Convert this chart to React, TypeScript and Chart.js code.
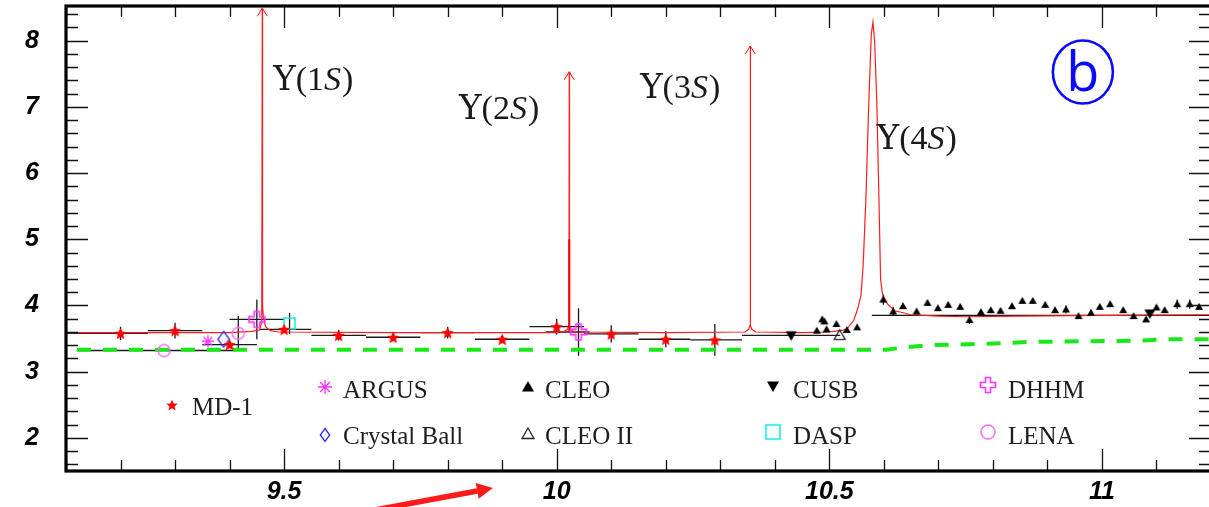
import React, { useEffect, useRef } from 'react';
import { Chart, registerables } from 'chart.js';

Chart.register(...registerables);

// ---------- axes ----------
const xTickValues = [9.5, 10, 10.5, 11];
const xTickLabels = ['9.5', '10', '10.5', '11'];
const yTickValues = [2, 3, 4, 5, 6, 7, 8];
const yTickLabels = ['2', '3', '4', '5', '6', '7', '8'];

// ---------- theory curve (red) ----------
const theoryX = [9.10, 9.40, 9.44, 9.455, 9.459, 9.460, 9.4605, 9.462, 9.466, 9.475, 9.49, 9.70, 10.00, 10.012, 10.020, 10.0225, 10.023, 10.0235, 10.027, 10.035, 10.20, 10.345, 10.352, 10.3545, 10.355, 10.3555, 10.358, 10.365, 10.45, 10.50, 10.52, 10.532, 10.545, 10.552, 10.558, 10.562, 10.567, 10.5725, 10.577, 10.580, 10.583, 10.587, 10.591, 10.594, 10.597, 10.602, 10.607, 10.62, 10.65, 10.70, 10.75, 10.85, 11.00, 11.20];
const theoryY = [3.59, 3.59, 3.61, 3.63, 3.75, 8.49, 4.00, 3.82, 3.68, 3.62, 3.60, 3.59, 3.59, 3.60, 3.64, 3.72, 7.53, 3.68, 3.62, 3.60, 3.59, 3.60, 3.64, 3.70, 7.92, 3.70, 3.64, 3.60, 3.59, 3.60, 3.62, 3.64, 3.78, 3.95, 4.15, 4.60, 5.60, 7.10, 8.10, 8.28, 8.00, 7.10, 5.60, 4.40, 4.20, 4.08, 4.02, 3.92, 3.86, 3.84, 3.83, 3.84, 3.85, 3.86];
const coreX = [10.023, 10.023];
const coreY = [3.60, 5.00];
const arrowMass = [9.460, 10.023, 10.355];
const arrowTop = [8.49, 7.53, 7.92];
const resonanceNames = ['1', '2', '3', '4'];

// ---------- green dashed ----------
const greenX = [9.12, 10.605, 10.63, 10.68, 10.78, 10.87, 10.975, 11.07, 11.12, 11.2];
const greenY = [3.33, 3.33, 3.36, 3.40, 3.42, 3.45, 3.46, 3.47, 3.49, 3.49];

// ---------- black average line ----------
const fitX = [10.578, 11.2];
const fitY = [3.85, 3.85];

// ---------- experiments ----------
const mdX = [9.20, 9.30, 9.40, 9.50, 9.60, 9.70, 9.80, 9.90, 10.00, 10.10, 10.20, 10.29];
const mdY = [3.58, 3.62, 3.41, 3.64, 3.55, 3.52, 3.59, 3.49, 3.68, 3.57, 3.49, 3.48];
const mdXLo = [9.10, 9.25, 9.35, 9.455, 9.55, 9.65, 9.75, 9.85, 9.95, 10.05, 10.15, 10.245];
const mdXHi = [9.25, 9.35, 9.45, 9.55, 9.65, 9.75, 9.85, 9.95, 10.05, 10.15, 10.245, 10.34];
const mdYErr = [0.10, 0.12, 0.05, 0.05, 0.08, 0.06, 0.09, 0.05, 0.12, 0.13, 0.12, 0.24];

const argusX = [9.36];
const argusY = [3.46];

const cbX = [9.389];
const cbY = [3.49];

const lenaX = [9.28, 9.416];
const lenaY = [3.32, 3.58];
const lenaXLo = [9.12, 9.416];
const lenaXHi = [9.41, 9.416];
const lenaYErr = [0, 0.26];

const dhhmX = [9.45, 10.04];
const dhhmY = [3.79, 3.60];
const dhhmXLo = [9.40, 9.98];
const dhhmXHi = [9.50, 10.06];
const dhhmYErr = [0.30, 0.36];

const daspX = [9.51];
const daspY = [3.73];
const daspYErr = [0.16];

const cusbX = [10.43, 11.088];
const cusbY = [3.55, 3.88];
const cusbXLo = [10.34, 11.088];
const cusbXHi = [10.52, 11.088];

const cleo2X = [10.519];
const cleo2Y = [3.55];

const cleoX = [10.477, 10.487, 10.491, 10.495, 10.513, 10.532, 10.551, 10.599, 10.617, 10.635, 10.660, 10.680, 10.699, 10.718, 10.740, 10.757, 10.778, 10.796, 10.814, 10.835, 10.854, 10.873, 10.896, 10.914, 10.934, 10.957, 10.980, 10.996, 11.015, 11.039, 11.058, 11.081, 11.100, 11.115, 11.138, 11.161, 11.178];
const cleoY = [3.62, 3.79, 3.76, 3.64, 3.72, 3.63, 3.67, 4.09, 3.91, 3.99, 3.91, 4.04, 3.96, 4.01, 3.98, 3.78, 3.90, 3.93, 3.92, 3.99, 4.07, 4.07, 4.01, 3.93, 3.94, 3.84, 3.89, 3.98, 4.02, 3.93, 3.84, 3.79, 3.97, 3.93, 4.02, 4.02, 3.98];
const cleoYErr = [0.03, 0.03, 0.03, 0.03, 0.03, 0.03, 0.03, 0.08, 0.07, 0.03, 0.03, 0.03, 0.03, 0.03, 0.03, 0.06, 0.03, 0.03, 0.03, 0.03, 0.03, 0.03, 0.03, 0.03, 0.06, 0.03, 0.03, 0.03, 0.03, 0.03, 0.03, 0.03, 0.03, 0.03, 0.07, 0.07, 0.03];

const legendNames = ['MD-1', 'ARGUS', 'Crystal Ball', 'CLEO', 'CLEO II', 'CUSB', 'DASP', 'DHHM', 'LENA'];

// ---------- colours ----------
const RED = '#ff0000';
const MAGENTA = '#ff33ff';
const BLUE = '#2a2aff';
const CYAN = '#11eeee';
const PINK = '#ff66ff';

const pts = (xs: number[], ys: number[]) => xs.map((x, i) => ({ x, y: ys[i] }));

type Kind = 'star5' | 'asterisk' | 'diamond' | 'tri' | 'triOpen' | 'triDown' | 'square' | 'plus' | 'circle';

function drawMarker(ctx: CanvasRenderingContext2D, kind: Kind, x: number, y: number, s: number, color: string) {
  ctx.save();
  ctx.translate(x, y);
  ctx.strokeStyle = color;
  ctx.fillStyle = color;
  ctx.lineWidth = 1.3;
  ctx.beginPath();
  const h = s / 2;
  switch (kind) {
    case 'star5': {
      const r = h * 0.45;
      for (let k = 0; k < 10; k++) {
        const a = -Math.PI / 2 + (k * Math.PI) / 5;
        const rr = k % 2 ? r : h;
        ctx.lineTo(rr * Math.cos(a), rr * Math.sin(a) + h * 0.1);
      }
      ctx.closePath();
      ctx.fill();
      break;
    }
    case 'asterisk': {
      for (let k = 0; k < 4; k++) {
        const a = (k * Math.PI) / 4;
        ctx.moveTo(-h * Math.cos(a), -h * Math.sin(a));
        ctx.lineTo(h * Math.cos(a), h * Math.sin(a));
      }
      ctx.stroke();
      break;
    }
    case 'diamond': {
      const w = s * 0.36;
      ctx.moveTo(0, -h);
      ctx.lineTo(w, 0);
      ctx.lineTo(0, h);
      ctx.lineTo(-w, 0);
      ctx.closePath();
      ctx.stroke();
      break;
    }
    case 'tri':
    case 'triOpen': {
      ctx.moveTo(0, -h);
      ctx.lineTo(h, h * 0.75);
      ctx.lineTo(-h, h * 0.75);
      ctx.closePath();
      if (kind === 'tri') ctx.fill();
      else ctx.stroke();
      break;
    }
    case 'triDown': {
      ctx.moveTo(0, h);
      ctx.lineTo(h, -h * 0.75);
      ctx.lineTo(-h, -h * 0.75);
      ctx.closePath();
      ctx.fill();
      break;
    }
    case 'square': {
      ctx.lineWidth = 1.6;
      ctx.rect(-h, -h, s, s);
      ctx.stroke();
      break;
    }
    case 'plus': {
      const t = s / 6;
      ctx.lineWidth = 1.6;
      ctx.moveTo(-t, -h);
      ctx.lineTo(t, -h);
      ctx.lineTo(t, -t);
      ctx.lineTo(h, -t);
      ctx.lineTo(h, t);
      ctx.lineTo(t, t);
      ctx.lineTo(t, h);
      ctx.lineTo(-t, h);
      ctx.lineTo(-t, t);
      ctx.lineTo(-h, t);
      ctx.lineTo(-h, -t);
      ctx.lineTo(-t, -t);
      ctx.closePath();
      ctx.stroke();
      break;
    }
    case 'circle': {
      ctx.lineWidth = 1.4;
      ctx.arc(0, 0, h, 0, Math.PI * 2);
      ctx.stroke();
      break;
    }
  }
  ctx.restore();
}

function markerCanvas(kind: Kind, s: number, color: string) {
  const size = Math.ceil(s + 4);
  const c = document.createElement('canvas');
  c.width = size;
  c.height = size;
  const g = c.getContext('2d') as CanvasRenderingContext2D;
  drawMarker(g, kind, size / 2, size / 2, s, color);
  return c;
}

const errorBarPlugin = {
  id: 'errorBars',
  beforeDatasetsDraw(chart: any) {
    const { ctx, chartArea, scales } = chart;
    const xs = scales.x;
    const ys = scales.y;
    ctx.save();
    ctx.beginPath();
    ctx.rect(chartArea.left, chartArea.top, chartArea.right - chartArea.left, chartArea.bottom - chartArea.top);
    ctx.clip();
    ctx.strokeStyle = '#1a1a1a';
    ctx.lineWidth = 1.3;
    chart.data.datasets.forEach((ds: any) => {
      if (!ds.errXLo && !ds.errY) return;
      ds.data.forEach((p: any, i: number) => {
        const px = xs.getPixelForValue(p.x);
        const py = ys.getPixelForValue(p.y);
        ctx.beginPath();
        if (ds.errXLo && ds.errXHi[i] > ds.errXLo[i]) {
          ctx.moveTo(xs.getPixelForValue(ds.errXLo[i]), py);
          ctx.lineTo(xs.getPixelForValue(ds.errXHi[i]), py);
        }
        if (ds.errY && ds.errY[i] > 0) {
          ctx.moveTo(px, ys.getPixelForValue(p.y + ds.errY[i]));
          ctx.lineTo(px, ys.getPixelForValue(p.y - ds.errY[i]));
        }
        ctx.stroke();
      });
    });
    ctx.restore();
  },
};

function drawUpsilon(ctx: CanvasRenderingContext2D, x: number, y: number, n: string) {
  const parts: [string, string][] = [
    ['Υ', '34px "DejaVu Serif"'],
    ['(', '34px "Liberation Serif"'],
    [n, '34px "Liberation Serif"'],
    ['S', 'italic 34px "Liberation Serif"'],
    [')', '34px "Liberation Serif"'],
  ];
  let cx = x;
  ctx.fillStyle = '#1a1a1a';
  ctx.textBaseline = 'alphabetic';
  ctx.textAlign = 'left';
  parts.forEach(([t, f], k) => {
    ctx.font = f;
    ctx.fillText(t, cx, y);
    cx += ctx.measureText(t).width + (k === 3 ? 1 : 0);
  });
}

const zeroPad = (s: any) => {
  s.paddingTop = 0;
  s.paddingBottom = 0;
  s.paddingLeft = 0;
  s.paddingRight = 0;
};

const decorPlugin = {
  id: 'decor',
  afterDraw(chart: any) {
    const { ctx, chartArea: a, scales } = chart;
    const xs = scales.x;
    const ys = scales.y;
    ctx.save();

    // arrowheads on narrow resonances
    ctx.strokeStyle = RED;
    ctx.lineWidth = 1;
    arrowMass.forEach((m, i) => {
      const px = xs.getPixelForValue(m);
      const py = ys.getPixelForValue(arrowTop[i]);
      ctx.beginPath();
      ctx.moveTo(px - 5, py + 8);
      ctx.lineTo(px, py);
      ctx.lineTo(px + 5, py + 8);
      ctx.stroke();
    });

    // resonance labels
    const labelPos = [
      [9.480, 7.256],
      [9.821, 6.818],
      [10.153, 7.135],
      [10.587, 6.365],
    ];
    labelPos.forEach(([lx, ly], i) => {
      drawUpsilon(ctx, xs.getPixelForValue(lx), ys.getPixelForValue(ly), resonanceNames[i]);
    });

    // circled b
    const bx = xs.getPixelForValue(10.965);
    const by = ys.getPixelForValue(7.527);
    ctx.strokeStyle = '#0a0aff';
    ctx.lineWidth = 2.6;
    ctx.beginPath();
    ctx.ellipse(bx, by, 30, 31.5, 0, 0, Math.PI * 2);
    ctx.stroke();
    ctx.fillStyle = '#0a0aff';
    ctx.font = '54px "Open Sans"';
    ctx.textAlign = 'center';
    ctx.textBaseline = 'alphabetic';
    ctx.fillText('b', bx, by + 19);

    // legend
    const legend: [Kind, string, number, number, number, number, number][] = [
      ['star5', RED, 12, 172, 405, 192, 415],
      ['asterisk', MAGENTA, 14, 325, 387, 343, 398],
      ['diamond', BLUE, 13, 325, 435, 343, 444],
      ['tri', '#000', 12, 528, 387, 545, 398],
      ['triOpen', '#222', 12, 528, 434, 545, 444],
      ['triDown', '#000', 12, 773, 386, 793, 398],
      ['square', CYAN, 14, 773, 432, 793, 444],
      ['plus', MAGENTA, 15, 988, 385, 1008, 398],
      ['circle', PINK, 14, 988, 432, 1008, 444],
    ];
    legend.forEach(([k, col, s, mx, my, tx, ty], i) => {
      drawMarker(ctx, k, mx, my, s, col);
      ctx.fillStyle = '#1e1e1e';
      ctx.font = '25px "Liberation Serif"';
      ctx.textAlign = 'left';
      ctx.textBaseline = 'alphabetic';
      ctx.fillText(legendNames[i], tx, ty);
    });

    // tick marks on all four sides
    ctx.strokeStyle = '#111';
    ctx.lineWidth = 1.3;
    ctx.beginPath();
    for (let i = 91; i <= 112; i++) {
      const px = Math.round(xs.getPixelForValue(i / 10)) + 0.5;
      const len = i % 5 === 0 ? 22 : 11;
      ctx.moveTo(px, a.bottom);
      ctx.lineTo(px, a.bottom - len);
      ctx.moveTo(px, a.top);
      ctx.lineTo(px, a.top + len);
    }
    for (let i = 8; i <= 42; i++) {
      const py = Math.round(ys.getPixelForValue(i / 5)) + 0.5;
      const len = i % 5 === 0 ? 22 : 12;
      ctx.moveTo(a.left, py);
      ctx.lineTo(a.left + len, py);
      ctx.moveTo(a.right, py);
      ctx.lineTo(a.right - len, py);
    }
    ctx.stroke();

    // frame
    ctx.strokeStyle = '#000';
    ctx.lineWidth = 3.2;
    ctx.strokeRect(a.left, a.top, a.right - a.left, a.bottom - a.top);

    // red arrow below the axis
    const tipX = xs.getPixelForValue(9.883);
    const tipY = a.bottom + 17;
    const ang = Math.atan2(-22, 118);
    const back = 16;
    const bxp = tipX - back * Math.cos(ang);
    const byp = tipY - back * Math.sin(ang);
    ctx.strokeStyle = '#ff1a1a';
    ctx.fillStyle = '#ff1a1a';
    ctx.lineWidth = 5.5;
    ctx.beginPath();
    ctx.moveTo(tipX - 125 * Math.cos(ang), tipY - 125 * Math.sin(ang));
    ctx.lineTo(bxp, byp);
    ctx.stroke();
    ctx.beginPath();
    ctx.moveTo(tipX, tipY);
    ctx.lineTo(bxp + 8 * Math.sin(ang), byp - 8 * Math.cos(ang));
    ctx.lineTo(bxp - 8 * Math.sin(ang), byp + 8 * Math.cos(ang));
    ctx.closePath();
    ctx.fill();

    ctx.restore();
  },
};

export default function App() {
  const ref = useRef<HTMLCanvasElement | null>(null);

  useEffect(() => {
    if (!ref.current) return;
    const mk = (k: Kind, s: number, c: string) => markerCanvas(k, s, c);
    const scatter = (label: string, xs: number[], ys: number[], style: any, extra: any = {}) => ({
      label,
      data: pts(xs, ys),
      showLine: false,
      pointStyle: style,
      pointRadius: 5,
      pointHoverRadius: 5,
      order: 1,
      ...extra,
    });

    const chart = new Chart(ref.current, {
      type: 'scatter',
      data: {
        datasets: [
          scatter('MD-1', mdX, mdY, mk('star5', 13, RED), { errXLo: mdXLo, errXHi: mdXHi, errY: mdYErr }),
          scatter('ARGUS', argusX, argusY, mk('asterisk', 12, MAGENTA)),
          scatter('Crystal Ball', cbX, cbY, mk('diamond', 16, BLUE)),
          scatter('CLEO', cleoX, cleoY, mk('tri', 8, '#000'), { errY: cleoYErr }),
          scatter('CLEO II', cleo2X, cleo2Y, mk('triOpen', 11, '#222')),
          scatter('CUSB', cusbX, cusbY, mk('triDown', 11, '#000'), { errXLo: cusbXLo, errXHi: cusbXHi }),
          scatter('DASP', daspX, daspY, mk('square', 11, CYAN), { errY: daspYErr }),
          scatter('DHHM', dhhmX, dhhmY, mk('plus', 16, MAGENTA), { errXLo: dhhmXLo, errXHi: dhhmXHi, errY: dhhmYErr }),
          scatter('LENA', lenaX, lenaY, mk('circle', 12, PINK), { errXLo: lenaXLo, errXHi: lenaXHi, errY: lenaYErr }),
          {
            label: 'core',
            data: pts(coreX, coreY),
            showLine: true,
            borderColor: RED,
            borderWidth: 2,
            pointRadius: 0,
            order: 2,
          },
          {
            label: 'theory',
            data: pts(theoryX, theoryY),
            showLine: true,
            borderColor: '#ff1c1c',
            borderWidth: 1.2,
            pointRadius: 0,
            tension: 0,
            order: 3,
          },
          {
            label: 'average',
            data: pts(fitX, fitY),
            showLine: true,
            borderColor: '#111',
            borderWidth: 1.3,
            pointRadius: 0,
            order: 4,
          },
          {
            label: 'background',
            data: pts(greenX, greenY),
            showLine: true,
            borderColor: '#18e818',
            borderWidth: 4,
            borderDash: [14, 12],
            pointRadius: 0,
            order: 5,
          },
        ] as any,
      },
      options: {
        animation: false,
        responsive: false,
        devicePixelRatio: 1,
        layout: { autoPadding: false, padding: { top: 6, right: 2, left: 0, bottom: 0 } },
        plugins: { legend: { display: false }, tooltip: { enabled: false } },
        scales: {
          x: {
            type: 'linear',
            min: 9.1,
            max: 11.2,
            grid: { display: false, drawTicks: false, tickLength: 0 },
            border: { display: false },
            afterFit: (s: any) => { s.height = 36; zeroPad(s); },
            afterBuildTicks: (s: any) => { s.ticks = xTickValues.map((v) => ({ value: v })); },
            ticks: {
              autoSkip: false,
              maxRotation: 0,
              padding: 6,
              color: '#000',
              font: { family: 'Liberation Sans', size: 25, weight: 'bold', style: 'italic' },
              callback: (_v: any, i: number) => xTickLabels[i],
            },
          },
          y: {
            type: 'linear',
            min: 1.5,
            max: 8.524,
            grid: { display: false, drawTicks: false, tickLength: 0 },
            border: { display: false },
            afterFit: (s: any) => { s.width = 66; zeroPad(s); },
            afterBuildTicks: (s: any) => { s.ticks = yTickValues.map((v) => ({ value: v })); },
            ticks: {
              autoSkip: false,
              padding: 27,
              color: '#000',
              font: { family: 'Liberation Sans', size: 25, weight: 'bold', style: 'italic' },
              callback: (_v: any, i: number) => yTickLabels[i],
            },
          },
        },
      } as any,
      plugins: [errorBarPlugin, decorPlugin],
    });
    return () => chart.destroy();
  }, []);

  return (
    <div style={{ position: 'fixed', left: 0, top: 0, width: 1209, height: 507, overflow: 'hidden', background: '#fff' }}>
      <div style={{ position: 'relative', width: 1213, height: 507 }}>
        <canvas ref={ref} width={1213} height={507} style={{ display: 'block', width: 1213, height: 507 }} />
      </div>
    </div>
  );
}
